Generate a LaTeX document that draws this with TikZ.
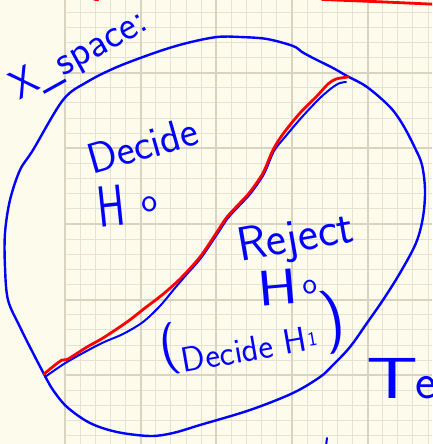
\documentclass[tikz,border=0pt]{standalone}
\usepackage{graphicx}
\definecolor{paper}{HTML}{FDFBEB}
\definecolor{gridminor}{HTML}{E6E2D1}
\definecolor{gridmajor}{HTML}{D9D4C1}
\definecolor{ink}{HTML}{0000FF}
\definecolor{redink}{HTML}{FF0000}
\tikzset{
  hand/.style={text=ink, font=\sffamily, inner sep=0pt},
  penline/.style={draw=ink, line width=2.4pt, line cap=round, line join=round},
  redline/.style={draw=redink, line width=2.8pt, line cap=round, line join=round},
  minorline/.style={draw=gridminor, line width=1pt},
  majorline/.style={draw=gridmajor, line width=1.8pt}
}
\begin{document}
\begin{tikzpicture}[x=1pt,y=-1pt]
\useasboundingbox (0,0) rectangle (432,444);
\fill[paper] (0,0) rectangle (432,444);
\begin{scope}
\clip (0,0) rectangle (432,444);
% grid
\foreach \k in {0,...,24} {
  \pgfmathsetmacro\xx{65+15.13*\k}
  \draw[minorline] (\xx,0) -- (\xx,444);
}
\foreach \k in {-5,...,24} {
  \pgfmathsetmacro\yy{72.7+15.13*\k}
  \draw[minorline] (65,\yy) -- (432,\yy);
}
\foreach \k in {0,5,...,20} {
  \pgfmathsetmacro\xx{65+15.13*\k}
  \draw[majorline] (\xx,0) -- (\xx,444);
}
\foreach \k in {-5,0,5,...,20} {
  \pgfmathsetmacro\yy{72.7+15.13*\k}
  \draw[majorline] (65,\yy) -- (432,\yy);
}
% outer closed curve (X space)
\draw[penline] plot[smooth, tension=0.55] coordinates {
 (45,376) (53,390) (67,407) (90,423) (117,432) (150,436) (173,433) (200,425)
 (250,410) (293,393) (320,377) (332,366) (350,347) (367,323) (383,300) (400,273)
 (416,243) (423,217) (425,190) (422,165) (415,148) (403,125) (390,107) (367,87)
 (347,76) (333,68) (313,58) (302,52) (293,46) (267,39) (240,37) (217,37)
 (187,43) (157,52) (117,67) (87,82) (63,100) (33,150) (20,170) (10,200)
 (5,233) (5,267) (8,300) (20,327) (33,353) (45,376)};
% blue divider
\draw[draw=ink, line width=2pt, line cap=round, line join=round] plot[smooth, tension=0.5] coordinates {
 (45,377) (67,362) (100,344) (123,334) (143,322) (160,306) (175,288) (187,274)
 (201,258) (218,233) (228,218) (241,204) (251,193) (264,174) (274,151) (285,137)
 (302,117) (320,98) (333,87) (340,83) (346,82)};
% red divider
\draw[redline] plot[smooth, tension=0.5] coordinates {
 (44,374) (55,365) (62,360) (68,359) (87,347) (103,338) (127,322) (145,308)
 (162,295) (180,279) (200,257) (217,232) (227,217) (240,203) (250,192) (263,173)
 (273,150) (283,134) (300,113) (317,96) (328,84) (336,79) (348,77)};
% red marks at top
\draw[redline] plot[smooth] coordinates {(322,-0.5) (380,1.8) (433,4.2)};
\draw[redline, line width=2pt] (94,-0.5) -- (98,0.3);
% small blue tick at bottom
\draw[draw=ink, line width=2pt, line cap=round] (327,438) -- (326,446);
% labels
\node[hand, rotate=29, anchor=base west] (xspace) at (19,101) {\fontsize{41}{41}\selectfont X\_space:};
\node[hand, rotate=16, anchor=base west] (decide) at (92,175) {\fontsize{43}{43}\selectfont Decide};
\node[hand, rotate=6, anchor=base west] (hzero) at (99,228) {\fontsize{58}{58}\selectfont\scalebox{0.72}[1]{H}\hspace{17pt}\raisebox{11pt}{\fontsize{34}{34}\selectfont o}};
\node[hand, rotate=10, anchor=base west] (reject) at (240,262) {\fontsize{48}{48}\selectfont Reject};
\node[hand, rotate=5, anchor=base west] (hzerob) at (259,307) {\fontsize{50}{50}\selectfont\scalebox{1.2}[1]{H}\hspace{5pt}\raisebox{9pt}{\fontsize{31}{31}\selectfont o}};
\node[hand, rotate=10, anchor=base west] (decideh) at (165,376) {\raisebox{13pt}{\fontsize{52}{52}\selectfont (}\fontsize{35}{35}\selectfont Decide H\hspace{1pt}\raisebox{4pt}{\fontsize{20}{20}\selectfont 1}\hspace{7pt}\raisebox{8pt}{\fontsize{64}{64}\selectfont )}};
\node[hand, anchor=base west] (te) at (366,398) {\fontsize{58}{58}\selectfont\scalebox{1.4}[1]{T}\hspace{-3pt}{\fontsize{50}{50}\selectfont e}};
\end{scope}
\end{tikzpicture}
\end{document}
